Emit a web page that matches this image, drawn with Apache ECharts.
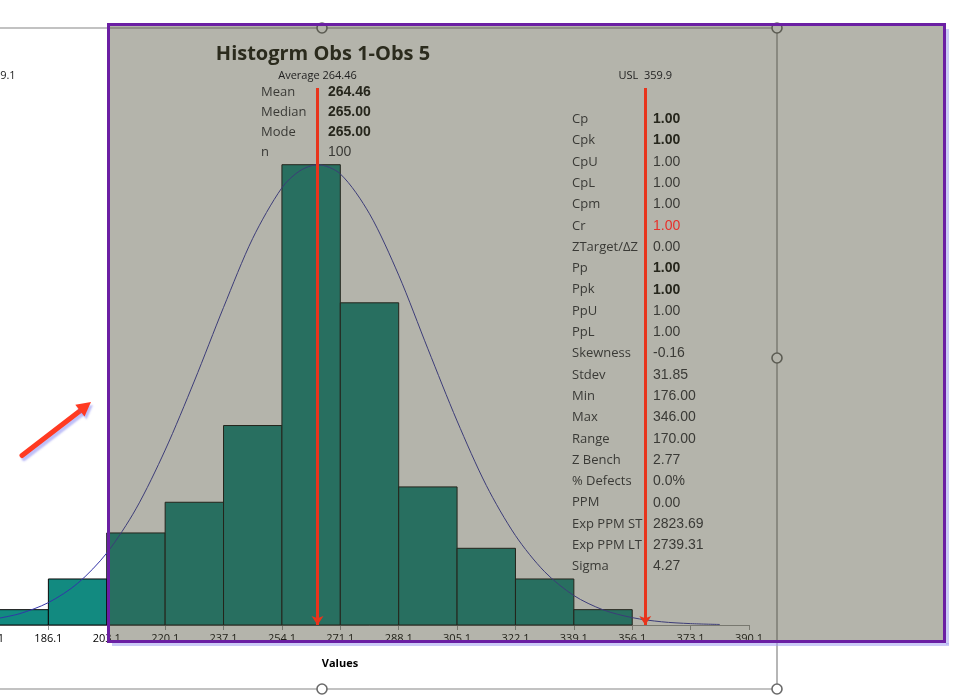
<!DOCTYPE html>
<html><head><meta charset="utf-8">
<script src="https://cdn.jsdelivr.net/npm/echarts@6/dist/echarts.min.js"></script>
<style>html,body{margin:0;padding:0;background:#fff;overflow:hidden;width:960px;height:697px;position:relative}#c{position:absolute;left:-100px;top:0;width:1060px;height:697px}</style>
</head><body><div id="c"></div>
<script>
// ---------- data ----------
const chartTitle = 'Histogrm Obs 1-Obs 5';
const axisTitle = 'Values';
const binStarts = [169.1, 186.1, 203.1, 220.1, 237.1, 254.1, 271.1, 288.1, 305.1, 322.1, 339.1];
const binEnds   = [186.1, 203.1, 220.1, 237.1, 254.1, 271.1, 288.1, 305.1, 322.1, 339.1, 356.1];
const binCounts = [1, 3, 6, 8, 13, 30, 21, 9, 5, 3, 1];
const axisFirstTick = 169.1, axisLastTick = 390.1, tickStep = 17;
const curveX = [169.1, 177.6, 186.1, 194.6, 203.1, 211.6, 220.1, 228.6, 237.1, 245.6, 254.1, 259.3, 264.5, 271.1, 279.6, 288.1, 296.6, 305.1, 313.6, 322.1, 330.6, 339.1, 347.6, 356.1, 364.6, 373.1, 381.6];
const curveY = [0.34, 0.73, 1.46, 2.71, 4.69, 7.57, 11.4, 15.9, 20.7, 25.2, 28.5, 29.6, 30.0, 29.4, 26.8, 22.8, 18.0, 13.3, 9.1, 5.83, 3.47, 1.92, 0.99, 0.48, 0.21, 0.09, 0.035];
const refValues = [169.1, 264.46, 359.9];
const refLabels = ['LSL  169.1', 'Average 264.46', 'USL  359.9'];
const leftNames = ['Mean', 'Median', 'Mode', 'n'];
const leftValues = ['264.46', '265.00', '265.00', '100'];
const rightNames = ['Cp','Cpk','CpU','CpL','Cpm','Cr','ZTarget/\u0394Z','Pp','Ppk','PpU','PpL','Skewness','Stdev','Min','Max','Range','Z Bench','% Defects','PPM','Exp PPM ST','Exp PPM LT','Sigma'];
const rightValues = ['1.00','1.00','1.00','1.00','1.00','1.00','0.00','1.00','1.00','1.00','1.00','-0.16','31.85','176.00','346.00','170.00','2.77','0.0%','0.00','2823.69','2739.31','4.27'];

// ---------- styling ----------
const boldNames = ['Mean','Median','Mode','Cp','Cpk','Pp','Ppk'];
const redNames = ['Cr'];
const LABEL_FONT = '"Open Sans", sans-serif';
const VALUE_FONT = '"Liberation Sans", Arial, sans-serif';
const DX = 100; // chart canvas starts 100px left of the visible page

const chart = echarts.init(document.getElementById('c'));
const off = v => +(v - axisFirstTick).toFixed(4);   // shift so axis min is a multiple of the interval

const barData = binStarts.map((s, i) => [off(s), off(binEnds[i]), binCounts[i]]);
const curveData = curveX.map((x, i) => [off(x), curveY[i]]);

const graphics = [];
function txt(x, y, text, font, color, align, z) {
  graphics.push({ type: 'text', x: x + DX, y, z: z || 10, silent: true,
    style: { text, font, fill: color, align: align || 'left', textAlign: align || 'left',
             verticalAlign: 'middle', textVerticalAlign: 'middle' } });
}
function ln(x1, y1, x2, y2, style, z) {
  graphics.push({ type: 'line', z, silent: true, shape: { x1: x1 + DX, y1, x2: x2 + DX, y2 }, style });
}
// selection frame and handles (under the overlay)
const frameStroke = { stroke: '#858585', lineWidth: 1.2 };
ln(-DX, 28, 777, 28, frameStroke, 1);
ln(777, 28, 777, 689, frameStroke, 1);
ln(-DX, 689, 777, 689, frameStroke, 1);
[[322, 28], [777, 28], [777, 358], [322, 689], [777, 689]].forEach(p => {
  graphics.push({ type: 'circle', z: 1.5, silent: true, shape: { cx: p[0] + DX, cy: p[1], r: 5 }, style: { fill: '#fff', stroke: '#6a6a6a', lineWidth: 1.6 } });
});
// translucent overlay
const glow = { stroke: 'rgba(160,160,240,0.55)', lineWidth: 3 };
ln(947.5, 29, 947.5, 644.5, glow, 3);
ln(112, 644.5, 949, 644.5, glow, 3);
graphics.push({ type: 'rect', z: 3, silent: true, shape: { x: 108.5 + DX, y: 24.5, width: 836, height: 617 },
  style: { fill: 'rgba(74,72,52,0.41)', stroke: '#6b1fa3', lineWidth: 3 } });
// annotation arrow
const arrowShadow = { shadowColor: 'rgba(110,110,240,0.45)', shadowBlur: 2, shadowOffsetX: 2, shadowOffsetY: 3 };
ln(22, 455.5, 80.5, 410.5, Object.assign({ stroke: '#ff3a22', lineWidth: 5, lineCap: 'round' }, arrowShadow), 4);
graphics.push({ type: 'polygon', z: 4, silent: true, shape: { points: [[91 + DX, 402], [84.5 + DX, 416.5], [75.3 + DX, 404.7]] },
  style: Object.assign({ fill: '#ff3a22' }, arrowShadow) });
// title and axis title
txt(323, 54, chartTitle, 'bold 20px ' + LABEL_FONT, '#2b2b1d', 'center');
txt(340, 664, axisTitle, 'bold 11px ' + LABEL_FONT, '#000', 'center');
// stat blocks
leftNames.forEach((n, i) => {
  const y = 92.5 + i * 20;
  txt(261, y, n, '13px ' + LABEL_FONT, '#3a3a36');
  txt(328, y, leftValues[i], (boldNames.includes(n) ? 'bold ' : '') + '14px ' + VALUE_FONT, boldNames.includes(n) ? '#26261c' : '#3a3a36');
});
rightNames.forEach((n, i) => {
  const y = 119.3 + i * 21.3;
  txt(572, y, n, '13px ' + LABEL_FONT, '#3a3a36');
  const col = redNames.includes(n) ? '#e8302a' : (boldNames.includes(n) ? '#26261c' : '#3a3a36');
  txt(653, y, rightValues[i], (boldNames.includes(n) ? 'bold ' : '') + '14px ' + VALUE_FONT, col);
});

chart.setOption({
  backgroundColor: '#ffffff',
  animation: false,
  grid: { left: DX - 10, right: 211, top: 88, bottom: 72, containLabel: false },
  xAxis: {
    type: 'value', min: 0, max: off(axisLastTick), interval: tickStep,
    axisLine: { show: true, lineStyle: { color: '#9a9a9a', width: 1 } },
    axisTick: { show: true, length: 5, lineStyle: { color: '#9a9a9a' } },
    splitLine: { show: false },
    axisLabel: { show: true, margin: 8, fontSize: 11, fontFamily: LABEL_FONT, color: '#000',
      showMinLabel: true, showMaxLabel: true,
      formatter: v => (v + axisFirstTick).toFixed(1) }
  },
  yAxis: { type: 'value', min: 0, max: 35, show: false, splitLine: { show: false } },
  series: [
    {
      type: 'custom', z: 2, data: barData, encode: { x: [0, 1], y: 2 },
      renderItem: (params, api) => {
        const p0 = api.coord([api.value(0), api.value(2)]);
        const p1 = api.coord([api.value(1), 0]);
        return { type: 'rect', shape: { x: p0[0], y: p0[1], width: p1[0] - p0[0], height: p1[1] - p0[1] },
          style: { fill: '#128a80', stroke: '#0a0a0a', lineWidth: 1 } };
      }
    },
    {
      type: 'line', z: 2, data: curveData, smooth: 0.3, showSymbol: false, symbol: 'none',
      lineStyle: { color: '#3434a8', width: 1 },
      markLine: {
        z: 5, silent: true, symbol: ['arrow', 'none'], symbolSize: [9, 9],
        lineStyle: { color: '#e8341c', width: 3, type: 'solid' },
        label: { show: true, position: 'end', distance: 7, formatter: '{b}', fontSize: 11, fontFamily: LABEL_FONT, color: '#222' },
        data: refValues.map((v, i) => ({ xAxis: off(v), name: refLabels[i] }))
      }
    }
  ],
  graphic: { elements: graphics }
});
</script>
</body></html>
